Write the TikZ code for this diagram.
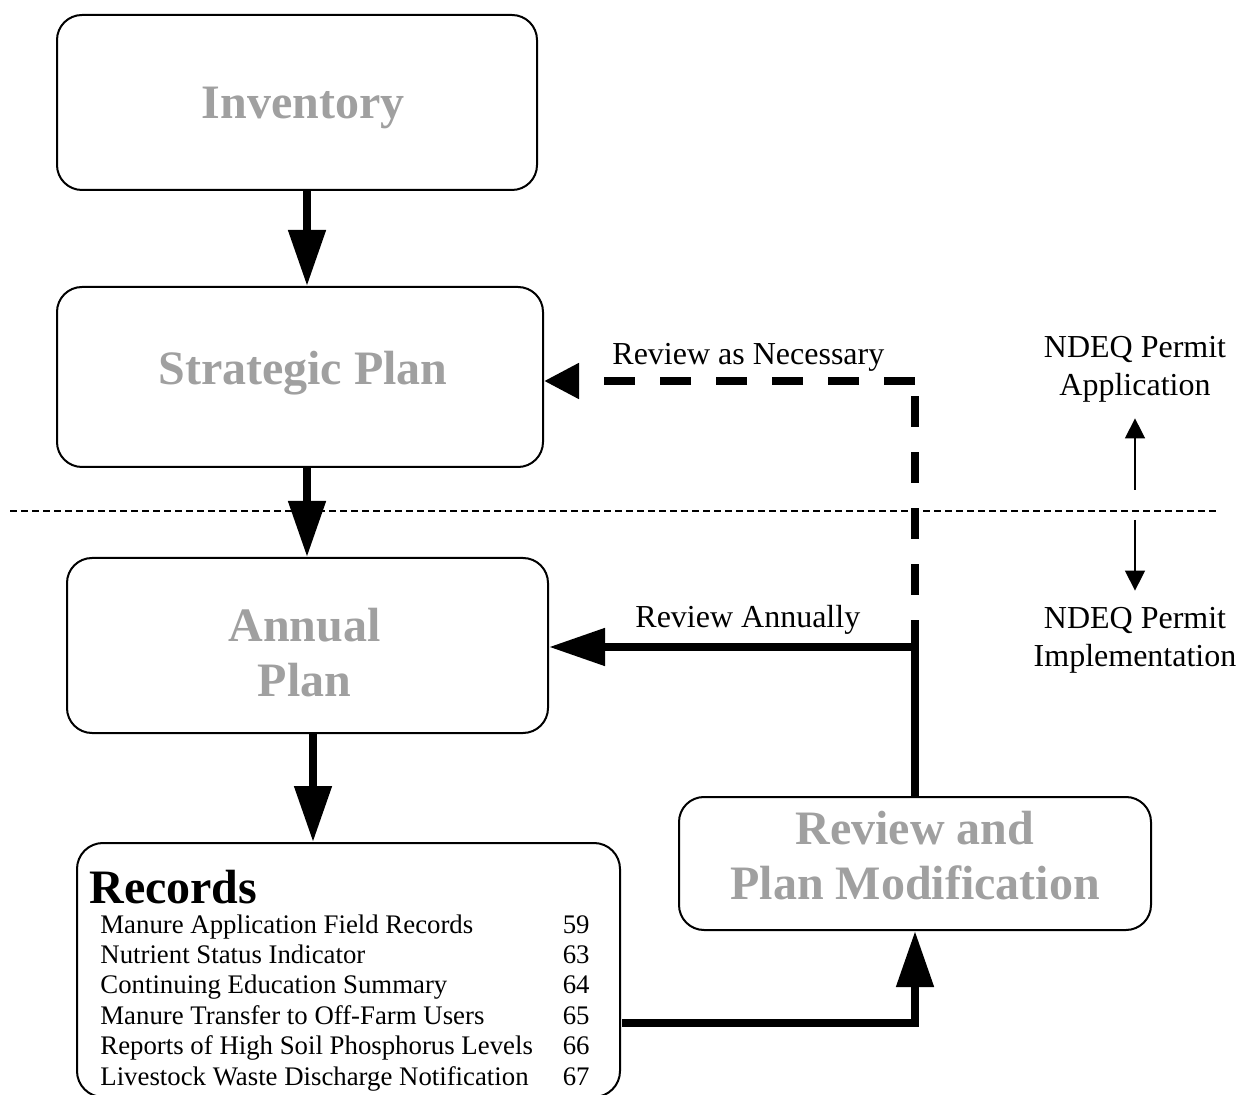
\documentclass[tikz,border=0pt]{standalone}
\usepackage{fontspec}
\setmainfont{Liberation Serif}
\usetikzlibrary{arrows.meta}
\definecolor{titlegray}{RGB}{160,160,160}
\newcommand{\stagefont}{\fontsize{24}{27.5}\selectfont\bfseries}
\newcommand{\notefont}{\fontsize{16}{19}\selectfont}
\newcommand{\recfont}{\fontsize{13.4}{15.2}\selectfont}

\begin{document}
\begin{tikzpicture}[x=0.5pt,y=-0.5pt,
  stagebox/.style={draw,line width=1pt,rounded corners=12.5pt,inner sep=0pt},
  stagetext/.style={font=\stagefont,text=titlegray,align=center,inner sep=0pt},
  bigarrow/.style={line width=4pt,-{Triangle[length=28pt,width=18pt]}},
  flowline/.style={line width=4pt},
  dashline/.style={line width=4pt,dash pattern=on 15.5pt off 12.5pt},
  dasharrow/.style={dashline,-{Triangle[length=17.5pt,width=17pt]}},
  thinarrow/.style={line width=0.75pt,-{Triangle[length=10pt,width=10pt]}},
  notetext/.style={font=\notefont,align=center,inner sep=8pt}]
  \clip (0,0) rectangle (1236,1095);
  % stage boxes
  \node[stagebox,minimum width=240pt,minimum height=87.5pt] (inv) at (297,102.5) {};
  \node[stagebox,minimum width=243pt,minimum height=90pt] (strat) at (300,377) {};
  \node[stagebox,minimum width=240.5pt,minimum height=87.5pt] (ann) at (307.5,645.5) {};
  \node[stagebox,minimum width=236pt,minimum height=66.5pt] (rev) at (915,863.5) {};
  \node[stagetext] (invlabel) at ([xshift=3pt,yshift=-2.5pt]inv.center) {Inventory};
  \node[stagetext] (stratlabel) at ([xshift=1.5pt,yshift=2pt]strat.center) {Strategic Plan};
  \node[stagetext] (annlabel) at ([xshift=-1.5pt,yshift=-3.5pt]ann.center) {Annual\\Plan};
  \node[stagetext] (revlabel) at ([yshift=4pt]rev.center) {Review and\\Plan Modification};
  % records
  \node[draw,line width=1pt,rounded corners=13pt,minimum width=271.5pt,minimum height=127pt,
    inner sep=0pt] (rec) at (348.5,970) {};
  \node[anchor=base west,font=\stagefont,inner sep=0pt] (rectitle) at (89,903) {Records};
  \foreach \rtext/\rpage [count=\ri from 0] in {%
      Manure Application Field Records/59,
      Nutrient Status Indicator/63,
      Continuing Education Summary/64,
      Manure Transfer to Off-Farm Users/65,
      Reports of High Soil Phosphorus Levels/66,
      Livestock Waste Discharge Notification/67}{%
    \node[anchor=base west,font=\recfont,inner sep=0pt] (recitem\ri) at (100,933+30.4*\ri) {\rtext};
    \node[anchor=base east,font=\recfont,inner sep=0pt] (recpage\ri) at (590,933+30.4*\ri) {\rpage};
  }
  % permit divider
  \coordinate (divL) at (10,511);
  \coordinate (divR) at (1218,511);
  \draw[line width=0.75pt,dash pattern=on 3.5pt off 2pt] (divL) -- (divR);
  \node[notetext] (appl) at (1135,369) {NDEQ Permit\\Application};
  \node[notetext] (impl) at (1135,640) {NDEQ Permit\\Implementation};
  \coordinate (uptail) at (1135,490);
  \coordinate (dntail) at (1135,520);
  \draw[thinarrow] (uptail) -- (appl.south);
  \draw[thinarrow] (dntail) -- (impl.north);
  % main flow
  \coordinate (axA) at (307,0);
  \coordinate (axB) at (313,0);
  \draw[bigarrow] (inv.south -| axA) -- (strat.north -| axA);
  \draw[bigarrow] (strat.south -| axA) -- (ann.north -| axA);
  \draw[bigarrow] (ann.south -| axB) -- (rec.north -| axB);
  \coordinate (recout) at (622,1023);
  \draw[bigarrow] (recout) -| (rev.south);
  % review loops
  \coordinate (jn) at (915,647);
  \coordinate (dc) at (915,381);
  \draw[flowline] (rev.north) -- (jn);
  \draw[bigarrow] (jn) -- (jn -| ann.east);
  \draw[dashline,dash phase=2pt] (jn) -- (dc);
  \draw[dasharrow] (dc) -- (dc -| strat.east);
  \node[anchor=base west,font=\notefont,inner sep=0pt] (yearly) at (635,628) {Review Annually};
  \node[anchor=base west,font=\notefont,inner sep=0pt] (asneed) at (612,365) {Review as Necessary};
\end{tikzpicture}
\end{document}
